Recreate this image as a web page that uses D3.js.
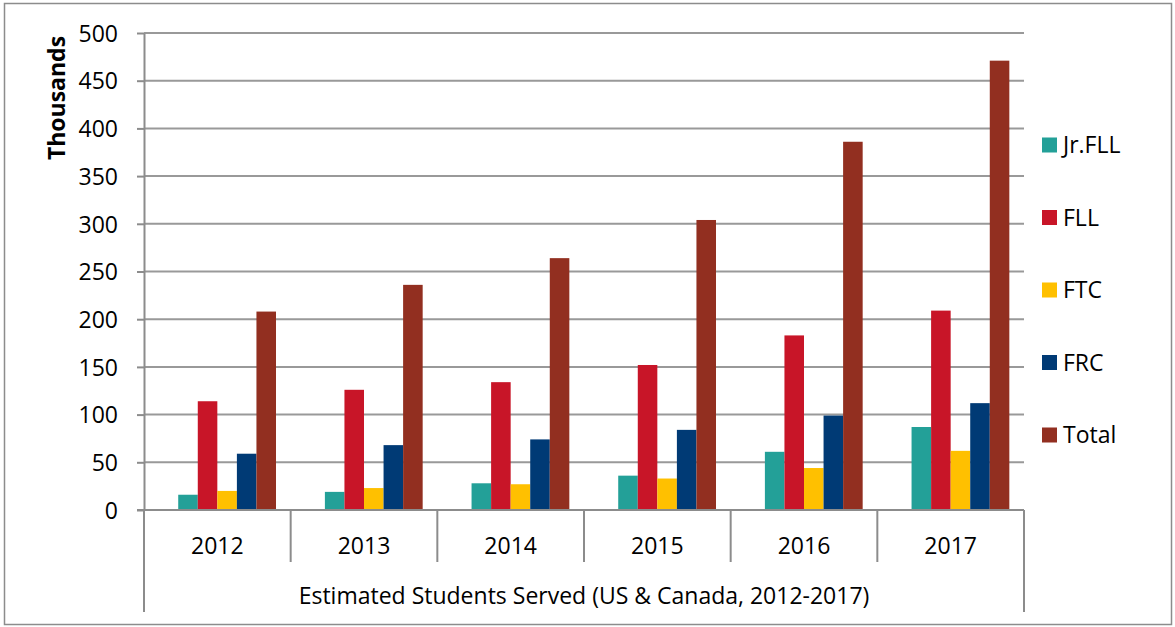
<!DOCTYPE html>
<html><head><meta charset="utf-8">
<script src="https://cdn.jsdelivr.net/npm/d3@7"></script>
<style>
html,body{margin:0;padding:0;background:#fff;}
text{font-family:"Open Sans",Lato,sans-serif;fill:#000;}
</style></head>
<body>
<svg id="chart" width="1175" height="627"></svg>
<script>
const years = ["2012","2013","2014","2015","2016","2017"];
const seriesNames = ["Jr.FLL","FLL","FTC","FRC","Total"];
const seriesColors = ["#23A098","#C81528","#FFC000","#003A75","#922F20"];
const jrFLL = [16, 19, 28, 36, 61, 87];
const fll   = [114, 126, 134, 152, 183, 209];
const ftc   = [20, 23, 27, 33, 44, 62];
const frc   = [59, 68, 74, 84, 99, 112];
const total = [208, 236, 264, 304, 386, 471];
const yTicks = [0,50,100,150,200,250,300,350,400,450,500];
const yTitle = "Thousands";
const xTitle = "Estimated Students Served (US & Canada, 2012-2017)";

(function(){
const seriesValues = [jrFLL, fll, ftc, frc, total];
const svg = d3.select("#chart");
const FS = "23px";

svg.append("rect").attr("x",4.5).attr("y",3.5).attr("width",1167).attr("height",621)
  .attr("fill","#fff").attr("stroke","#8c8c8c").attr("stroke-width",1.5);

const pLeft = 144, pRight = 1024, pTop = 33, pBottom = 510;
const x0 = d3.scaleBand().domain(years).range([pLeft, pRight]).padding(0);
const slots = ["_empty", ...seriesNames];
const x1 = d3.scaleBand().domain(slots).range([0, x0.bandwidth()]).paddingInner(0).paddingOuter(0.75);
const y = d3.scaleLinear().domain([0, 500]).range([pBottom, pTop]);

svg.append("g").selectAll("line").data(yTicks.filter(d=>d>0)).join("line")
  .attr("x1", pLeft).attr("x2", pRight).attr("y1", d=>y(d)).attr("y2", d=>y(d))
  .attr("stroke","#999").attr("stroke-width",2);

const groups = svg.append("g").selectAll("g").data(years).join("g")
  .attr("transform", d=>`translate(${x0(d)},0)`);
groups.selectAll("rect").data((d,i)=>seriesNames.map((s,k)=>({s, k, v: seriesValues[k][i]})))
  .join("rect")
  .attr("x", d=>x1(d.s)).attr("width", x1.bandwidth())
  .attr("y", d=>y(d.v)).attr("height", d=>pBottom - y(d.v))
  .attr("fill", d=>seriesColors[d.k]);

const yAxis = d3.axisLeft(y).tickValues(yTicks).tickSize(7).tickPadding(19).tickSizeOuter(0);
const gy = svg.append("g").attr("transform",`translate(${pLeft},0)`).call(yAxis);
gy.select(".domain").attr("stroke","#8c8c8c").attr("stroke-width",2);
gy.selectAll(".tick line").attr("stroke","#8c8c8c").attr("stroke-width",2);
gy.selectAll(".tick text").style("font-size",FS).style("font-family","'Open Sans', Lato, sans-serif").attr("fill","#000").attr("dy","0.36em");

svg.append("line").attr("x1", pLeft-7).attr("x2", pRight).attr("y1", pBottom).attr("y2", pBottom)
  .attr("stroke","#8c8c8c").attr("stroke-width",2);
const bounds = years.map(d=>x0(d)).concat([pRight]);
svg.append("g").selectAll("line").data(bounds).join("line")
  .attr("x1", d=>d).attr("x2", d=>d).attr("y1", pBottom)
  .attr("y2", (d,i)=> (i===0 || i===bounds.length-1) ? 612 : 562)
  .attr("stroke","#8c8c8c").attr("stroke-width",2);
svg.append("g").selectAll("text").data(years).join("text")
  .attr("x", d=>x0(d)+x0.bandwidth()/2).attr("y", 546).attr("dy","0.36em")
  .attr("text-anchor","middle").style("font-size",FS).text(d=>d);
svg.append("text").attr("x", (pLeft+pRight)/2).attr("y", 596).attr("dy","0.36em")
  .attr("text-anchor","middle").style("font-size",FS).text(xTitle);
svg.append("text").attr("transform","translate(57,98) rotate(-90)").attr("dy","0.36em")
  .attr("text-anchor","middle").style("font-size",FS).style("font-weight","bold").text(yTitle);

const legendY = d3.scalePoint().domain(seriesNames).range([145, 435]);
const lg = svg.append("g").selectAll("g").data(seriesNames).join("g")
  .attr("transform", d=>`translate(1042,${legendY(d)})`);
lg.append("rect").attr("x",0).attr("y",-7.5).attr("width",15).attr("height",15)
  .attr("fill",(d,i)=>seriesColors[i]);
lg.append("text").attr("x",21).attr("y",0).attr("dy","0.36em").style("font-size",FS).text(d=>d);
})();
</script>
</body></html>
